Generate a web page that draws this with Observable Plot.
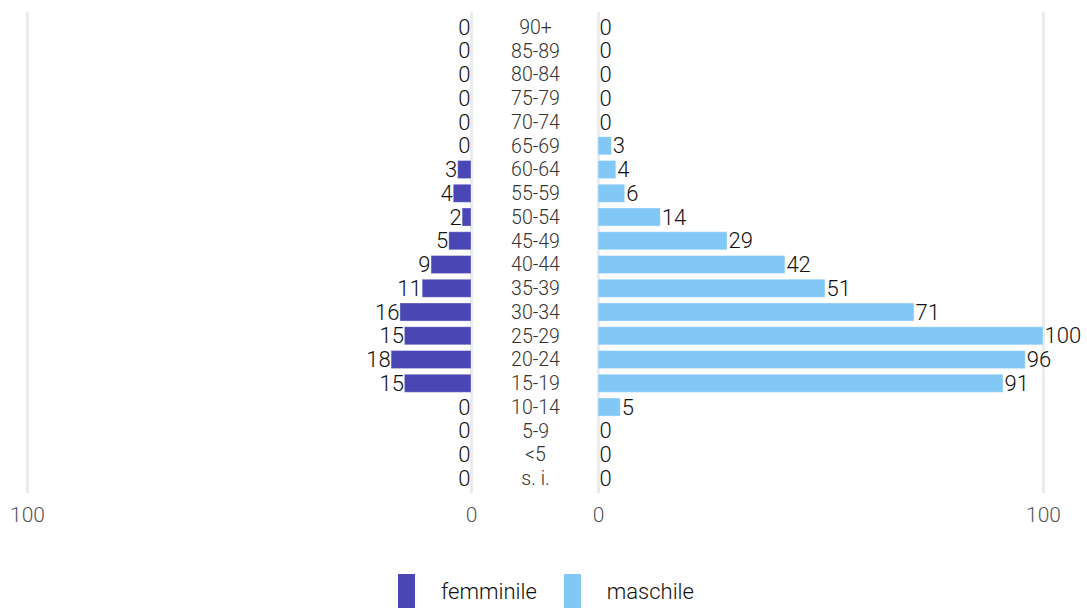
<!DOCTYPE html>
<html>
<head>
<meta charset="utf-8">
<script src="https://cdn.jsdelivr.net/npm/d3@7"></script>
<script src="https://cdn.jsdelivr.net/npm/@observablehq/plot@0.6"></script>
<style>
  html, body { margin: 0; padding: 0; background: #fff; }
  body { width: 1087px; height: 608px; overflow: hidden; font-family: Roboto, "Noto Sans", sans-serif; }
  #row { display: flex; flex-direction: row; }
  #legend { position: absolute; left: 0; top: 574px; width: 1087px; display: flex; justify-content: center; font-family: Roboto, sans-serif; font-weight: 300; font-size: 22px; color: #111; padding-left: 5px; box-sizing: border-box; }
  .item { display: flex; align-items: flex-start; }
  .sw { width: 17px; height: 40px; }
  .lab { margin-left: 26px; margin-top: 5px; }
</style>
</head>
<body>
<div id="row"></div>
<div id="legend"></div>
<script>
const ageGroups = ["90+","85-89","80-84","75-79","70-74","65-69","60-64","55-59","50-54","45-49","40-44","35-39","30-34","25-29","20-24","15-19","10-14","5-9","<5","s. i."];
const femaleValues = [0,0,0,0,0,0,3,4,2,5,9,11,16,15,18,15,0,0,0,0];
const maleValues   = [0,0,0,0,0,3,4,6,14,29,42,51,71,100,96,91,5,0,0,0];
const xTicks = [0, 100];
const seriesNames = ["femminile", "maschile"];
const seriesColors = ["#4a47b5", "#82c8f7"];

const female = ageGroups.map((g, i) => ({age: g, value: femaleValues[i]}));
const male = ageGroups.map((g, i) => ({age: g, value: maleValues[i]}));

const H = 533, MT = 12.3, MB = 40;
const yOpts = {type: "band", domain: ageGroups, padding: 0.24, round: false, axis: null};
const grid = "#ebebeb";
const baseStyle = {fontFamily: "Roboto, sans-serif", background: "transparent", overflow: "visible"};

const left = Plot.plot({
  width: 476, height: H, marginTop: MT, marginBottom: MB, marginLeft: 27, marginRight: 5,
  style: baseStyle,
  x: {domain: [0, 100], reverse: true, label: null},
  y: yOpts,
  marks: [
    Plot.ruleX(xTicks, {stroke: grid, strokeWidth: 3}),
    Plot.barX(female, {x: "value", y: "age", fill: seriesColors[0], stroke: "white", strokeOpacity: 0.35, strokeWidth: 1}),
    Plot.text(female, {x: "value", y: "age", text: d => String(d.value), textAnchor: "end", dx: -1, fontSize: 22, fontWeight: 300, fill: "#111"}),
    Plot.axisX({ticks: xTicks, tickSize: 0, tickPadding: 14, fontSize: 21, fontWeight: 300, color: "#555", label: null, tickFormat: d => String(d)})
  ]
});

const middle = Plot.plot({
  width: 118, height: H, marginTop: MT, marginBottom: MB, marginLeft: 0, marginRight: 0,
  style: baseStyle,
  y: yOpts,
  marks: [
    Plot.text(ageGroups, {y: d => d, text: d => d, frameAnchor: "middle", fontSize: 19.5, fontWeight: 300, fill: "#333"})
  ]
});

const right = Plot.plot({
  width: 493, height: H, marginTop: MT, marginBottom: MB, marginLeft: 4, marginRight: 44,
  style: baseStyle,
  x: {domain: [0, 100], label: null},
  y: yOpts,
  marks: [
    Plot.ruleX(xTicks, {stroke: grid, strokeWidth: 3}),
    Plot.barX(male, {x: "value", y: "age", fill: seriesColors[1], stroke: "white", strokeOpacity: 0.35, strokeWidth: 1}),
    Plot.text(male, {x: "value", y: "age", text: d => String(d.value), textAnchor: "start", dx: 1, fontSize: 22, fontWeight: 300, fill: "#111"}),
    Plot.axisX({ticks: xTicks, tickSize: 0, tickPadding: 14, fontSize: 21, fontWeight: 300, color: "#555", label: null, tickFormat: d => String(d)})
  ]
});

const row = document.getElementById("row");
row.appendChild(left);
row.appendChild(middle);
row.appendChild(right);

const legend = document.getElementById("legend");
seriesNames.forEach((name, i) => {
  const item = document.createElement("div");
  item.className = "item";
  if (i > 0) item.style.marginLeft = "27px";
  const sw = document.createElement("div");
  sw.className = "sw";
  sw.style.background = seriesColors[i];
  const lab = document.createElement("div");
  lab.className = "lab";
  lab.textContent = name;
  item.appendChild(sw);
  item.appendChild(lab);
  legend.appendChild(item);
});
</script>
</body>
</html>
